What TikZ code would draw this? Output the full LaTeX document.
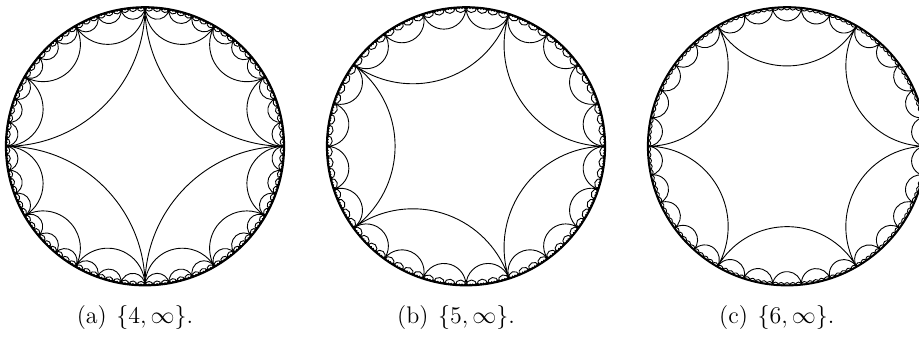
\documentclass[tikz,border=0pt]{standalone}
\usepackage{tikz}

\tikzset{
  geo/.style={line width=0.45pt},
  rim/.style={line width=0.9pt},
  subcap/.style={anchor=base, inner sep=0pt, font=\fontsize{12}{14}\selectfont}
}

% #1 = number of sides, #2 = deepest level, #3 = disc radius
\newcommand{\idealtiling}[3]{%
  \draw[rim] (0,0) circle[radius=#3];
  \foreach \lev in {0,...,#2} {
    \pgfmathtruncatemacro{\narcs}{#1*(#1-1)^\lev}
    \pgfmathtruncatemacro{\nlast}{\narcs-1}
    \pgfmathsetmacro{\dtheta}{360/\narcs}
    \pgfmathsetmacro{\rad}{#3*tan(\dtheta/2)}
    \draw[geo] \foreach \j in {0,...,\nlast} {
      (\j*\dtheta:#3) arc[start angle=\j*\dtheta+270,
                          end angle=(\j+1)*\dtheta+90, radius=\rad pt]
    };
  }
}

\begin{document}
\begin{tikzpicture}
  \useasboundingbox (0,0) rectangle (459.5pt,170.5pt);

  \coordinate (diskA) at (72.5pt,97.35pt);
  \coordinate (diskB) at (233pt,97.35pt);
  \coordinate (diskC) at (393.5pt,97.35pt);

  \begin{scope}[shift={(diskA)}]
    \idealtiling{4}{5}{69.6pt}
  \end{scope}
  \begin{scope}[shift={(diskB)}]
    \idealtiling{5}{4}{69.6pt}
  \end{scope}
  \begin{scope}[shift={(diskC)}]
    \idealtiling{6}{3}{69.6pt}
  \end{scope}

  \node[subcap] (capA) at (67.5pt,8.75pt) {(a)\hskip0.4em$\{4,\infty\}$.};
  \node[subcap] (capB) at (228pt,8.75pt) {(b)\hskip0.4em$\{5,\infty\}$.};
  \node[subcap] (capC) at (388.4pt,8.75pt) {(c)\hskip0.4em$\{6,\infty\}$.};
\end{tikzpicture}
\end{document}
